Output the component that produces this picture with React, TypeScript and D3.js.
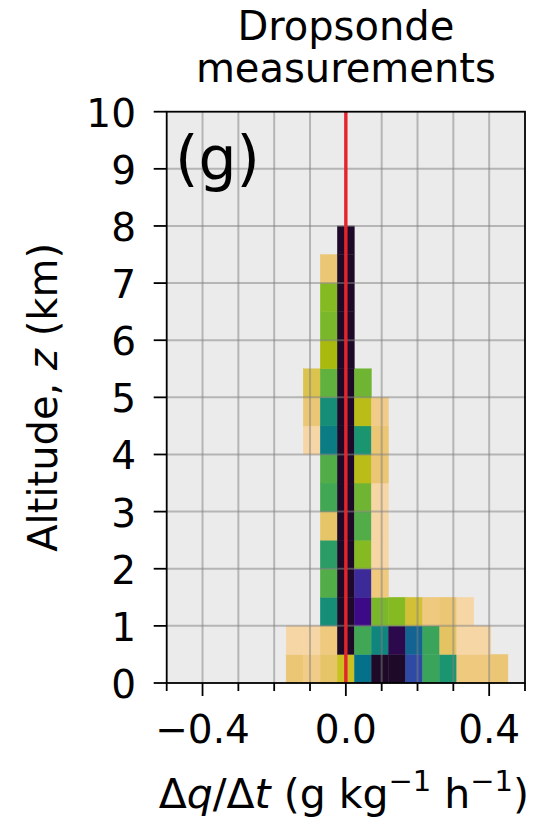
import React from "react";
import * as d3 from "d3";

// Histogram layout: 21 bins across the x range, 0.5 km altitude bins
const X_DOMAIN: [number, number] = [-0.5, 0.5];
const Z_DOMAIN: [number, number] = [0, 10];
const X_BIN_COUNT = 21;
const Z_BIN_SIZE = 0.5;
const FIRST_COLUMN = 7; // bin index of the first stored column

// Counts per altitude bin (bottom up); columns are bins 7..19
const COUNTS: number[][] = [
  [5, 3, 7, 11, 29, 40, 40, 32, 23, 25, 4, 4, 5], // 0.0–0.5 km
  [1, 1, 4, 40, 22, 27, 38, 30, 23, 8, 1, 1, 0], // 0.5–1.0
  [0, 0, 26, 40, 36, 17, 16, 10, 4, 5, 1, 0, 0], // 1.0–1.5
  [0, 0, 20, 40, 34, 4, 0, 0, 0, 0, 0, 0, 0], // 1.5–2.0
  [0, 0, 24, 40, 16, 1, 0, 0, 0, 0, 0, 0, 0], // 2.0–2.5
  [0, 0, 7, 40, 20, 1, 0, 0, 0, 0, 0, 0, 0], // 2.5–3.0
  [0, 0, 22, 40, 18, 1, 0, 0, 0, 0, 0, 0, 0], // 3.0–3.5
  [0, 0, 20, 40, 12, 5, 0, 0, 0, 0, 0, 0, 0], // 3.5–4.0
  [0, 1, 28, 40, 25, 5, 0, 0, 0, 0, 0, 0, 0], // 4.0–4.5
  [0, 5, 26, 40, 12, 3, 0, 0, 0, 0, 0, 0, 0], // 4.5–5.0
  [0, 9, 19, 40, 18, 0, 0, 0, 0, 0, 0, 0, 0], // 5.0–5.5
  [0, 0, 13, 40, 0, 0, 0, 0, 0, 0, 0, 0, 0], // 5.5–6.0
  [0, 0, 17, 40, 0, 0, 0, 0, 0, 0, 0, 0, 0], // 6.0–6.5
  [0, 0, 16, 40, 0, 0, 0, 0, 0, 0, 0, 0, 0], // 6.5–7.0
  [0, 0, 5, 40, 0, 0, 0, 0, 0, 0, 0, 0, 0], // 7.0–7.5
  [0, 0, 0, 40, 0, 0, 0, 0, 0, 0, 0, 0, 0], // 7.5–8.0
];

// Colour map stops (count -> colour), light for few samples, dark for many
const CMAP_COUNTS = [1, 3, 5, 8, 11, 13, 16, 18, 20, 23, 25, 27, 29, 32, 34, 36, 38, 40];
const CMAP_COLORS = [
  "#f7d6a6", "#f0cc88", "#ebc674", "#e4c462", "#c9c022", "#aab90e",
  "#86ba22", "#70b434", "#52ad48", "#3aa45a", "#1b9470", "#10857e",
  "#05708a", "#2f4aa4", "#3c2a98", "#3c0a86", "#2c084c", "#1e0a28",
];

const X_MAJOR_TICKS = [-0.4, 0, 0.4];
const X_MINOR_TICKS = [-0.5, -0.3, -0.2, -0.1, 0.1, 0.2, 0.3, 0.5];
const X_GRID = [-0.4, -0.3, -0.2, -0.1, 0, 0.1, 0.2, 0.3, 0.4];
const Z_TICKS = [0, 1, 2, 3, 4, 5, 6, 7, 8, 9, 10];

const TITLE_LINES = ["Dropsonde", "measurements"];
const PANEL_LABEL = "(g)";

const W = 539;
const H = 819;
const M = { left: 166.7, right: 525, top: 111.7, bottom: 683 };
const FONT = "DejaVu Sans, Verdana, sans-serif";

export default function App() {
  const x = d3.scaleLinear().domain(X_DOMAIN).range([M.left, M.right]);
  const y = d3.scaleLinear().domain(Z_DOMAIN).range([M.bottom, M.top]);
  const color = d3
    .scaleLinear<string>()
    .domain(CMAP_COUNTS)
    .range(CMAP_COLORS)
    .interpolate(d3.interpolateRgb)
    .clamp(true);

  const binWidth = (X_DOMAIN[1] - X_DOMAIN[0]) / X_BIN_COUNT;
  const edge = (j: number) => X_DOMAIN[0] + j * binWidth;
  const fmt = d3.format(".1f");

  const cells: React.ReactNode[] = [];
  COUNTS.forEach((row, r) => {
    row.forEach((c, i) => {
      if (c <= 0) return;
      const j = FIRST_COLUMN + i;
      const x0 = x(edge(j));
      const x1 = x(edge(j + 1));
      const y0 = y((r + 1) * Z_BIN_SIZE);
      const y1 = y(r * Z_BIN_SIZE);
      const fill = color(c);
      cells.push(
        <rect
          key={`c-${r}-${i}`}
          x={x0}
          y={y0}
          width={x1 - x0}
          height={y1 - y0}
          fill={fill}
          stroke={fill}
          strokeWidth={0.4}
        />
      );
    });
  });

  const cx = (M.left + M.right) / 2;
  const cy = (M.top + M.bottom) / 2;

  return (
    <svg
      width={W}
      height={H}
      style={{ position: "absolute", left: 0, top: 0, background: "#fff" }}
      fontFamily={FONT}
    >
      <rect x={0} y={0} width={W} height={H} fill="#fff" />
      {/* title */}
      {TITLE_LINES.map((t, i) => (
        <text key={t} x={cx} y={40 + i * 42} textAnchor="middle" fontSize={40} fill="#000">
          {t}
        </text>
      ))}

      {/* axes background */}
      <rect x={M.left} y={M.top} width={M.right - M.left} height={M.bottom - M.top} fill="#ebebeb" />

      {/* 2-D histogram */}
      <g>{cells}</g>

      {/* grid */}
      <g stroke="#808080" strokeOpacity={0.5} strokeWidth={2}>
        {X_GRID.map((v) => (
          <line key={`gx${v}`} x1={x(v)} x2={x(v)} y1={M.top} y2={M.bottom} />
        ))}
        {Z_TICKS.filter((v) => v > 0 && v < 10).map((v) => (
          <line key={`gy${v}`} x1={M.left} x2={M.right} y1={y(v)} y2={y(v)} />
        ))}
      </g>

      {/* zero reference line */}
      <line x1={x(0)} x2={x(0)} y1={y(Z_DOMAIN[0])} y2={y(Z_DOMAIN[1])} stroke="#e3252b" strokeWidth={3.4} />

      {/* panel label */}
      <text x={175} y={179} fontSize={60} fill="#000">
        {PANEL_LABEL}
      </text>

      {/* spines */}
      <rect
        x={M.left}
        y={M.top}
        width={M.right - M.left}
        height={M.bottom - M.top}
        fill="none"
        stroke="#000"
        strokeWidth={1.8}
      />

      {/* y axis */}
      <g stroke="#000" strokeWidth={1.8}>
        {Z_TICKS.map((v) => (
          <line key={`yt${v}`} x1={M.left - 13} x2={M.left} y1={y(v)} y2={y(v)} />
        ))}
      </g>
      {Z_TICKS.map((v) => (
        <text key={`yl${v}`} x={136} y={y(v) + 15} textAnchor="end" fontSize={39} fill="#000">
          {v}
        </text>
      ))}
      <text
        transform={`translate(57,${cy}) rotate(-90)`}
        textAnchor="middle"
        fontSize={40}
        fill="#000"
      >
        <tspan>Altitude, </tspan>
        <tspan fontStyle="italic">z</tspan>
        <tspan> (km)</tspan>
      </text>

      {/* x axis */}
      <g stroke="#000" strokeWidth={1.8}>
        {X_MAJOR_TICKS.map((v) => (
          <line key={`xM${v}`} x1={x(v)} x2={x(v)} y1={M.bottom} y2={M.bottom + 13} />
        ))}
        {X_MINOR_TICKS.map((v) => (
          <line key={`xm${v}`} x1={x(v)} x2={x(v)} y1={M.bottom} y2={M.bottom + 8} />
        ))}
      </g>
      {X_MAJOR_TICKS.map((v) => (
        <text key={`xl${v}`} x={x(v)} y={743} textAnchor="middle" fontSize={39} fill="#000">
          {fmt(v)}
        </text>
      ))}
      <text x={cx - 2} y={808} textAnchor="middle" fontSize={41} fill="#000">
        <tspan>Δ</tspan>
        <tspan fontStyle="italic">q</tspan>
        <tspan>/Δ</tspan>
        <tspan fontStyle="italic">t</tspan>
        <tspan> (g kg</tspan>
        <tspan fontSize={29} dy={-17}>−1</tspan>
        <tspan dy={17}> h</tspan>
        <tspan fontSize={29} dy={-17}>−1</tspan>
        <tspan dy={17}>)</tspan>
      </text>
    </svg>
  );
}
